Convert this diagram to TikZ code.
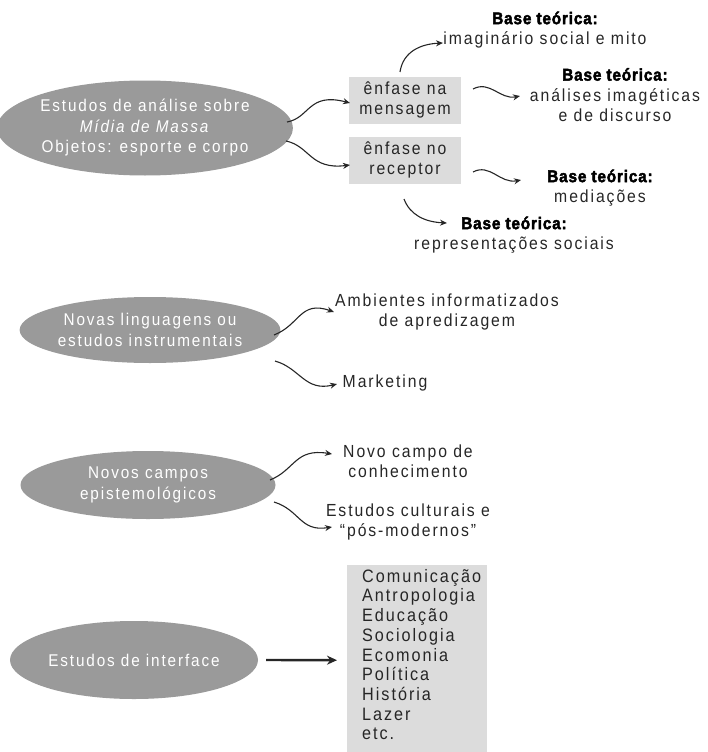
\documentclass[tikz,border=0pt]{standalone}
\usepackage{fontspec}
\setmainfont{Liberation Sans}[LetterSpace=11,FakeStretch=0.9,BoldFeatures={LetterSpace=5,FakeBold=2.5}]
\usetikzlibrary{shapes.geometric,arrows.meta}
\definecolor{ellgray}{HTML}{9A9A9A}
\definecolor{boxgray}{HTML}{DCDCDC}
\definecolor{txt}{HTML}{262626}
\begin{document}
\begin{tikzpicture}[x=1pt,y=-1pt,
  ell/.style={ellipse, fill=ellgray, text=white, align=center, inner sep=0pt, font=\fontsize{17}{20.5}\selectfont},
  gbox/.style={rectangle, fill=boxgray, text=txt, align=center, inner sep=0pt, minimum width=112pt, minimum height=47pt, font=\fontsize{17.5}{20}\selectfont},
  lbl/.style={text=txt, align=center, inner sep=0pt, font=\fontsize{17.5}{20.5}\selectfont},
  conn/.style={-{Stealth[length=7pt,width=6pt]}, line width=1.1pt, draw=txt},
  bigconn/.style={-{Stealth[length=10pt,width=9pt]}, line width=2.4pt, draw=txt}
]
\useasboundingbox (0,0) rectangle (707,752);
\newcommand{\bt}{{\fontsize{17}{20.5}\selectfont\bfseries\color{black}Base teórica:}}

% top group
\node[ell, minimum width=272pt, minimum height=95pt] (e1) at (145,128)
  {Estudos de análise sobre\\\textit{Mídia de Massa}\\Objetos: esporte e corpo};
\node[gbox] (b1) at (405,100) {ênfase na\\mensagem};
\node[gbox] (b2) at (405,160) {ênfase no\\receptor};
\node[lbl] (t1) at (545,30) {\bt\\imaginário social e mito};
\node[lbl] (t2) at (615,95) {\bt\\análises imagéticas\\e de discurso};
\node[lbl] (t3) at (600,188) {\bt\\mediações};
\node[lbl] (t4) at (514,235) {\bt\\representações sociais};

\coordinate (a1s) at (287,122); \coordinate (a1e) at (350,103);
\coordinate (a2s) at (286,141); \coordinate (a2e) at (350,165);
\coordinate (a3s) at (400,72);  \coordinate (a3e) at (443,43);
\coordinate (a4s) at (473,89);  \coordinate (a4e) at (520,96);
\coordinate (a5s) at (473,172); \coordinate (a5e) at (521,180);
\coordinate (a6s) at (404,199); \coordinate (a6e) at (447,223);

\draw[conn] (a1s) .. controls (310,118) and (308,92) .. (a1e);
\draw[conn] (a2s) .. controls (310,146) and (310,170) .. (a2e);
\draw[conn] (a3s) .. controls (403,52) and (420,44) .. (a3e);
\draw[conn] (a4s) .. controls (490,80) and (500,100) .. (a4e);
\draw[conn] (a5s) .. controls (490,163) and (500,184) .. (a5e);
\draw[conn] (a6s) .. controls (410,215) and (425,222) .. (a6e);

% second group
\node[ell, minimum width=250pt, minimum height=66pt] (e2) at (150,330)
  {Novas linguagens ou\\estudos instrumentais};
\node[lbl] (t5) at (447,312) {Ambientes informatizados\\de apredizagem};
\node[lbl] (t6) at (385,383) {Marketing};
\coordinate (a7s) at (274,335); \coordinate (a7e) at (334,312);
\coordinate (a8s) at (275,361); \coordinate (a8e) at (337,384);
\draw[conn] (a7s) .. controls (300,325) and (300,300) .. (a7e);
\draw[conn] (a8s) .. controls (300,368) and (305,392) .. (a8e);

% third group
\node[ell, minimum width=255pt, minimum height=68pt] (e3) at (148,485)
  {Novos campos\\epistemológicos};
\node[lbl] (t7) at (408,461) {Novo campo de\\conhecimento};
\node[lbl] (t8) at (408,522) {Estudos culturais e\\“pós-modernos”};
\coordinate (a9s) at (270,480); \coordinate (a9e) at (332,454);
\coordinate (a10s) at (274,502); \coordinate (a10e) at (332,527);
\draw[conn] (a9s) .. controls (295,470) and (295,448) .. (a9e);
\draw[conn] (a10s) .. controls (300,510) and (300,532) .. (a10e);

% fourth group
\node[ell, minimum width=248pt, minimum height=78pt] (e4) at (134,660)
  {Estudos de interface};
\node[fill=boxgray, minimum width=140pt, minimum height=190pt, inner sep=0pt, anchor=north west] (lbox) at (347,565) {};
\node[anchor=north west, align=left, text=txt, inner sep=0pt, font=\fontsize{18}{19.7}\selectfont] (list) at (362,569)
  {Comunicação\\Antropologia\\Educação\\Sociologia\\Ecomonia\\Política\\História\\Lazer\\etc.};
\draw[bigconn] (e4.east) ++(8pt,0) coordinate (a11s) (a11s) -- (lbox.west -| 337,0);
\end{tikzpicture}
\end{document}
